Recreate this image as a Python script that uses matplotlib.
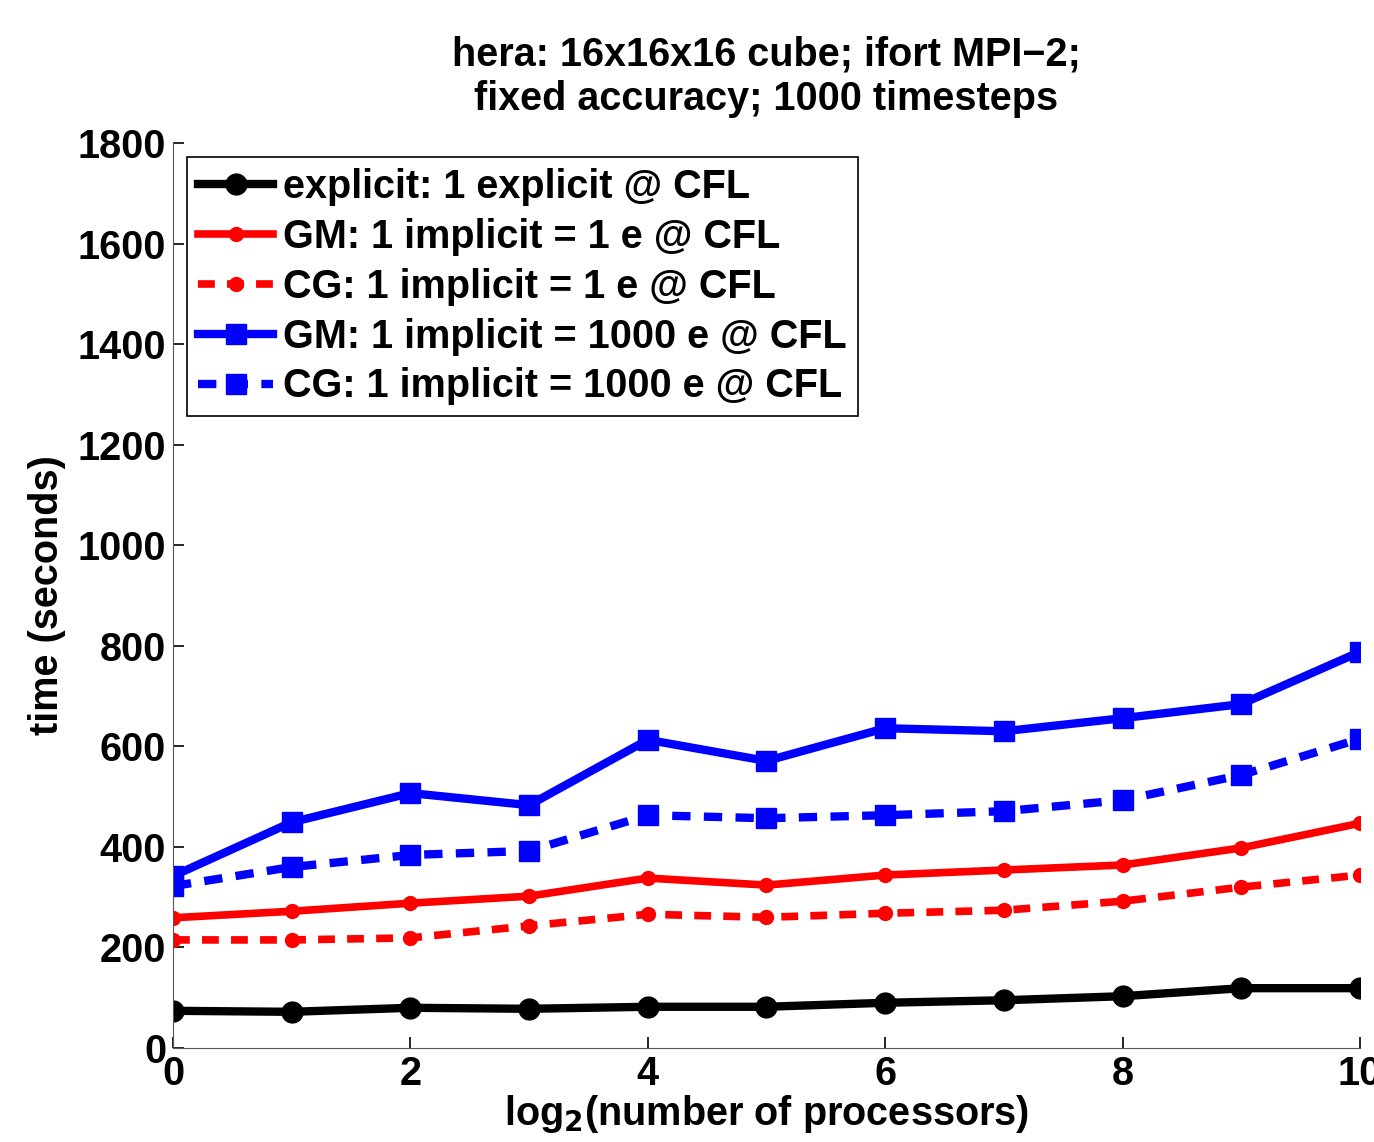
import numpy as np
import matplotlib
matplotlib.use('Agg')
import matplotlib.pyplot as plt

plt.rcParams['font.family'] = ['Liberation Sans', 'DejaVu Sans']
plt.rcParams['font.weight'] = 'bold'
plt.rcParams['mathtext.default'] = 'bf'

#  data
logp = np.arange(0, 11)
explicit = [74, 72, 80, 78, 82, 82, 90, 95, 103, 119, 119]
gm_1e = [259, 272, 288, 302, 338, 324, 344, 354, 364, 398, 447]
cg_1e = [215, 215, 219, 243, 266, 260, 268, 274, 292, 320, 344]
gm_1000e = [342, 449, 507, 483, 613, 571, 636, 630, 656, 684, 788]
cg_1000e = [322, 360, 384, 392, 463, 457, 463, 471, 493, 543, 615]

labels = ['explicit: 1 explicit @ CFL',
          'GM: 1 implicit = 1 e @ CFL',
          'CG: 1 implicit = 1 e @ CFL',
          'GM: 1 implicit = 1000 e @ CFL',
          'CG: 1 implicit = 1000 e @ CFL']

fs = 28.5

fig = plt.figure(figsize=(13.74, 11.42), dpi=100)
ax = fig.add_axes([0.1259, 0.0823, 0.8639, 0.7925])

ax.plot(logp, explicit, '-o', color='black', lw=6, ms=15, label=labels[0])
ax.plot(logp, gm_1e, '-o', color='red', lw=5.5, ms=10, label=labels[1])
ax.plot(logp, cg_1e, '--o', color='red', lw=5.5, ms=10, dashes=(2.2, 1.6), label=labels[2])
ax.plot(logp, gm_1000e, '-s', color='blue', lw=6, ms=14, label=labels[3])
ax.plot(logp, cg_1000e, '--s', color='blue', lw=6, ms=14, dashes=(2.2, 1.6), label=labels[4])

ax.set_xlim(0, 10)
ax.set_ylim(0, 1800)
ax.set_xticks([0, 2, 4, 6, 8, 10])
ax.set_yticks(np.arange(0, 1801, 200))
ax.tick_params(direction='in', labelsize=fs, width=1.2, length=8, pad=5)
for sp in ['top', 'right']:
    ax.spines[sp].set_visible(False)
ax.spines['left'].set_color('#555555')
ax.spines['bottom'].set_color('#555555')
for lbl in ax.get_xticklabels() + ax.get_yticklabels():
    lbl.set_fontweight('bold')

ax.set_xlabel('log$_2$(number of processors)', fontsize=fs, fontweight='bold', labelpad=0)
ax.set_ylabel('time (seconds)', fontsize=fs, fontweight='bold', labelpad=8)
ax.set_title('hera: 16x16x16 cube; ifort MPI\u22122;\nfixed accuracy; 1000 timesteps',
             fontsize=fs, fontweight='bold', pad=24, linespacing=1.2)

leg = ax.legend(loc='upper left', handlelength=1.9, handletextpad=0.25,
                borderaxespad=0.35, labelspacing=0.3, fancybox=False, framealpha=1,
                borderpad=0.28, prop={'weight': 'bold', 'size': fs})
leg.get_frame().set_edgecolor('black')
leg.get_frame().set_linewidth(1.2)

fig.savefig('out.png', dpi=100)
